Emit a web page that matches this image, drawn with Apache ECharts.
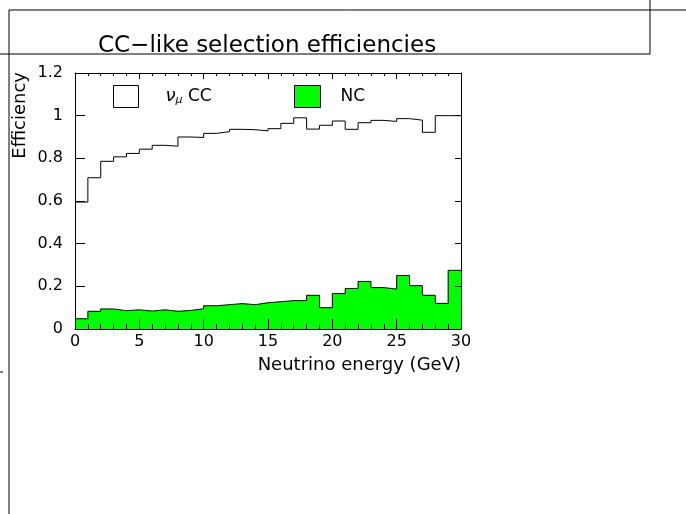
<!DOCTYPE html>
<html>
<head>
<meta charset="utf-8">
<script src="https://cdn.jsdelivr.net/npm/echarts@6/dist/echarts.min.js"></script>
<style>
  html, body { margin: 0; padding: 0; background: #fff; }
  #chart { width: 686px; height: 514px; }
</style>
</head>
<body>
<div id="chart"></div>
<script>
// Neutrino energy bins: 30 bins of 1 GeV from 0 to 30
const binEdges = [0, 1, 2, 3, 4, 5, 6, 7, 8, 9, 10, 11, 12, 13, 14, 15, 16, 17, 18, 19, 20, 21, 22, 23, 24, 25, 26, 27, 28, 29, 30];

// Selection efficiency per bin, numu CC events
const ccEff = [0.595, 0.709, 0.786, 0.807, 0.823, 0.843, 0.861, 0.857, 0.900, 0.898,
               0.917, 0.925, 0.936, 0.934, 0.929, 0.939, 0.964, 0.990, 0.937, 0.955,
               0.975, 0.936, 0.967, 0.978, 0.973, 0.986, 0.979, 0.922, 1.000, 1.000];

// Selection efficiency per bin, NC events
const ncEff = [0.048, 0.083, 0.094, 0.086, 0.090, 0.084, 0.090, 0.083, 0.087, 0.095,
               0.109, 0.114, 0.119, 0.114, 0.123, 0.128, 0.133, 0.133, 0.158, 0.100,
               0.166, 0.190, 0.223, 0.194, 0.187, 0.251, 0.203, 0.158, 0.120, 0.275];

const yTicks = [0, 0.2, 0.4, 0.6, 0.8, 1, 1.2];
const xTicks = [0, 5, 10, 15, 20, 25, 30];

// Step-histogram points: each bin value starts at its lower edge, the last
// value is repeated at the upper edge of the final bin.
function histPoints(values) {
  const pts = values.map((v, i) => [binEdges[i], v]);
  pts.push([binEdges[binEdges.length - 1], values[values.length - 1]]);
  return pts;
}

const FONT = 'DejaVu Sans';
const chart = echarts.init(document.getElementById('chart'), null, { renderer: 'canvas' });

const xCommon = {
  type: 'value',
  min: xTicks[0],
  max: xTicks[xTicks.length - 1],
  interval: 5,
  z: 10,
  splitLine: { show: false },
  axisLine: { show: true, onZero: false, lineStyle: { color: '#000', width: 1 } }
};
const yCommon = {
  type: 'value',
  min: yTicks[0],
  max: yTicks[yTicks.length - 1],
  interval: 0.2,
  z: 10,
  splitLine: { show: false },
  axisLine: { show: true, onZero: false, lineStyle: { color: '#000', width: 1 } }
};

const option = {
  backgroundColor: '#fff',
  animation: false,
  title: {
    text: 'CC\u2212like selection efficiencies',
    left: 93,
    top: 30,
    textStyle: { fontFamily: FONT, fontSize: 23, fontWeight: 'normal', color: '#000' }
  },
  legend: [
    {
      left: 113, top: 85, padding: 0,
      itemWidth: 25, itemHeight: 22,
      icon: 'rect',
      data: [{ name: 'CC', itemStyle: { color: '#fff', borderColor: '#000', borderWidth: 1 } }],
      formatter: () => '{nu|\u03BD}{mu|\u03BC}{t| CC}',
      textStyle: {
        fontFamily: FONT, fontSize: 16, color: '#000', padding: [0, 0, 0, 22],
        rich: {
          nu: { fontFamily: FONT, fontSize: 18, fontStyle: 'italic', color: '#000' },
          mu: { fontFamily: FONT, fontSize: 11, fontStyle: 'italic', color: '#000', verticalAlign: 'bottom', padding: [8, 0, 0, 0] },
          t: { fontFamily: FONT, fontSize: 17, color: '#000' }
        }
      }
    },
    {
      left: 294, top: 85, padding: 0,
      itemWidth: 26, itemHeight: 22,
      icon: 'rect',
      data: [{ name: 'NC', itemStyle: { color: '#00ff00', borderColor: '#000', borderWidth: 1 } }],
      textStyle: { fontFamily: FONT, fontSize: 17, color: '#000', padding: [0, 0, 0, 15] }
    }
  ],
  grid: { left: 75, right: 225, top: 73, bottom: 185, containLabel: false },
  xAxis: [
    Object.assign({}, xCommon, {
      position: 'bottom',
      axisTick: { show: true, inside: true, length: 10, lineStyle: { color: '#000' } },
      minorTick: { show: true, splitNumber: 5, length: 5, lineStyle: { color: '#000' } },
      axisLabel: { show: true, margin: 5, color: '#000', fontFamily: FONT, fontSize: 16 },
      name: 'Neutrino energy (GeV)',
      nameLocation: 'end',
      nameGap: 0,
      nameTextStyle: { fontFamily: FONT, fontSize: 18, color: '#000', align: 'right', verticalAlign: 'top', padding: [27, 0, 0, 0] }
    }),
    Object.assign({}, xCommon, {
      position: 'top',
      axisTick: { show: true, inside: true, length: 6, lineStyle: { color: '#000' } },
      minorTick: { show: true, splitNumber: 5, length: 3, lineStyle: { color: '#000' } },
      axisLabel: { show: false }
    })
  ],
  yAxis: [
    Object.assign({}, yCommon, {
      position: 'left',
      axisTick: { show: true, inside: true, length: 10, lineStyle: { color: '#000' } },
      axisLabel: { show: true, margin: 12, color: '#000', fontFamily: FONT, fontSize: 16 }
    }),
    Object.assign({}, yCommon, {
      position: 'right',
      axisTick: { show: true, inside: true, length: 6, lineStyle: { color: '#000' } },
      axisLabel: { show: false }
    })
  ],
  series: [
    {
      name: 'NC',
      type: 'line',
      step: 'end',
      xAxisIndex: 0, yAxisIndex: 0,
      data: histPoints(ncEff),
      symbol: 'none',
      lineStyle: { color: '#000', width: 1 },
      areaStyle: { color: '#00ff00', opacity: 1, origin: 'start' },
      z: 3
    },
    {
      name: 'CC',
      type: 'line',
      step: 'end',
      xAxisIndex: 0, yAxisIndex: 0,
      data: histPoints(ccEff),
      symbol: 'none',
      lineStyle: { color: '#000', width: 1 },
      z: 4
    }
  ],
  graphic: [
    // page frame around the title
    { type: 'line', shape: { x1: 9, y1: 10, x2: 686, y2: 10 }, style: { stroke: '#000', lineWidth: 1 }, silent: true },
    { type: 'line', shape: { x1: 0, y1: 54, x2: 650, y2: 54 }, style: { stroke: '#000', lineWidth: 1 }, silent: true },
    { type: 'line', shape: { x1: 650, y1: 0, x2: 650, y2: 54 }, style: { stroke: '#000', lineWidth: 1 }, silent: true },
    { type: 'line', shape: { x1: 9, y1: 10, x2: 9, y2: 514 }, style: { stroke: '#000', lineWidth: 1 }, silent: true },
    { type: 'line', shape: { x1: 0, y1: 372, x2: 3, y2: 372 }, style: { stroke: '#000', lineWidth: 1 }, silent: true },
    // y axis title
    {
      type: 'text',
      x: 20, y: 72,
      rotation: Math.PI / 2,
      style: { text: 'Efficiency', fontFamily: FONT, fontSize: 18, fill: '#000', align: 'right', verticalAlign: 'middle' },
      silent: true
    }
  ]
};

chart.setOption(option);
</script>
</body>
</html>
